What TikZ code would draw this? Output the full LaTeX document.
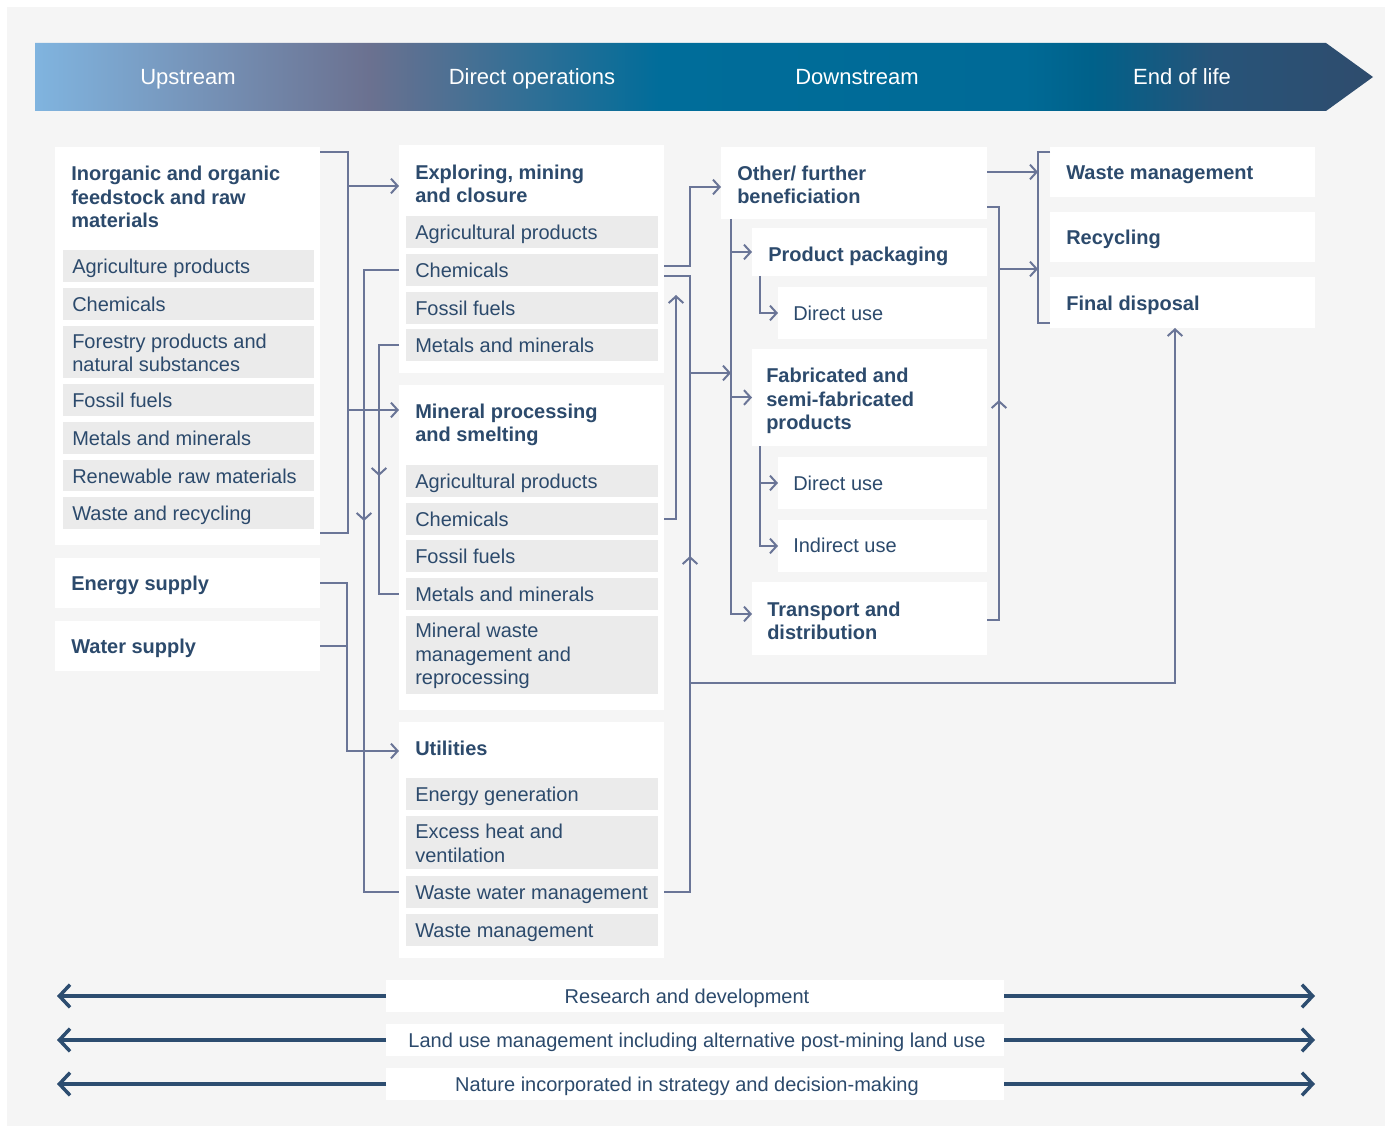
\documentclass[tikz,border=0pt]{standalone}
\usepackage{fontspec}
\setmainfont{Liberation Sans}
\usetikzlibrary{arrows.meta,fit}
\definecolor{bgc}{HTML}{F5F5F5}
\definecolor{itmc}{HTML}{EBEBEB}
\definecolor{ink}{HTML}{2C4A6C}
\definecolor{cn}{HTML}{6A7597}
\definecolor{navy}{HTML}{2D4D70}
\definecolor{bA}{HTML}{80B4DF}
\definecolor{bB}{HTML}{6B7190}
\definecolor{bC}{HTML}{006D9A}
\definecolor{bD}{HTML}{006A96}
\definecolor{bE}{HTML}{00618A}
\definecolor{bF}{HTML}{275479}
\definecolor{bG}{HTML}{2F4C6D}
\pgfdeclarehorizontalshading{band}{100bp}{color(0bp)=(bA); color(25bp)=(bA); color(37.5bp)=(bB); color(48.4bp)=(bC); color(62bp)=(bD); color(64.5bp)=(bE); color(69bp)=(bF); color(75bp)=(bG); color(100bp)=(bG)}
\newcommand{\bx}[6]{\node[#1,fit={(#3,#4) (#5,#6)}] (#2) {};}
\newcommand{\gitem}[6]{\node[gb,fit={(#2,#3) (#4,#5)}] (#1) {};
  \node[txt,one,anchor=west] (#1t) at ({#2+9},{(#3+#5)/2}) {#6};}
\newcommand{\gitemm}[6]{\node[gb,fit={(#2,#3) (#4,#5)}] (#1) {};
  \node[txt,anchor=west] (#1t) at ({#2+9},{(#3+#5)/2+1}) {#6};}
\begin{document}
\begin{tikzpicture}[x=0.75pt,y=-0.75pt,
  wb/.style={fill=white,draw=none,inner sep=0pt,outer sep=0pt},
  gb/.style={fill=itmc,draw=none,inner sep=0pt,outer sep=0pt},
  txt/.style={text=ink,inner sep=0pt,font=\fontsize{15}{17.5}\selectfont,align=left},
  btxt/.style={txt,font=\fontsize{15}{17.5}\selectfont\bfseries},
  one/.style={text height=13.5pt,text depth=2pt},
  hd/.style={text=white,inner sep=0pt,font=\fontsize{16.5}{18}\selectfont,text height=12.5pt,text depth=2pt},
  conn/.style={draw=cn,line width=1.5pt},
  arr/.style={-{Straight Barb[length=5pt,width=11pt]}},
  big/.style={draw=navy,line width=2.6pt,-{Straight Barb[length=8pt,width=17pt]}}]
\fill[white] (0,0) rectangle (1391,1126);
\fill[bgc] (7,7) rectangle (1385,1126);
\useasboundingbox (0,0) rectangle (1391,1126);
% header band
\shade[shading=band] (35,43) -- (1326,43) -- (1373,77) -- (1326,111) -- (35,111) -- cycle;
\node[hd] (hup) at (188,78) {Upstream};
\node[hd] (hdo) at (532,78) {Direct operations};
\node[hd] (hdn) at (857,78) {Downstream};
\node[hd] (hel) at (1182,78) {End of life};
% upstream
\bx{wb}{rawp}{55}{147}{320}{545}
\node[btxt,anchor=west] (rawt) at (71,197) {Inorganic and organic\\feedstock and raw\\materials};
\gitem{r1}{63}{250}{314}{282}{Agriculture products}
\gitem{r2}{63}{288}{314}{320}{Chemicals}
\gitemm{r3}{63}{326}{314}{378}{Forestry products and\\natural substances}
\gitem{r4}{63}{384}{314}{416}{Fossil fuels}
\gitem{r5}{63}{422}{314}{454}{Metals and minerals}
\gitem{r6}{63}{460}{314}{491}{Renewable raw materials}
\gitem{r7}{63}{497}{314}{529}{Waste and recycling}
\bx{wb}{enp}{55}{558}{320}{608}
\node[btxt,one,anchor=west] (ent) at (71,583) {Energy supply};
\bx{wb}{wap}{55}{621}{320}{671}
\node[btxt,one,anchor=west] (wat) at (71,646) {Water supply};
% direct operations
\bx{wb}{expp}{399}{145}{664}{373}
\node[btxt,anchor=west] (expt) at (415,184) {Exploring, mining\\and closure};
\gitem{ex1}{406}{216}{658}{248}{Agricultural products}
\gitem{exch}{406}{254}{658}{286}{Chemicals}
\gitem{ex3}{406}{292}{658}{324}{Fossil fuels}
\gitem{exmm}{406}{329}{658}{361}{Metals and minerals}
\bx{wb}{minp}{399}{385}{664}{710}
\node[btxt,anchor=west] (mint) at (415,425) {Mineral processing\\and smelting};
\gitem{mp1}{406}{465}{658}{497}{Agricultural products}
\gitem{mpch}{406}{503}{658}{535}{Chemicals}
\gitem{mp3}{406}{540}{658}{572}{Fossil fuels}
\gitem{mpmm}{406}{578}{658}{610}{Metals and minerals}
\gitemm{mp5}{406}{616}{658}{694}{Mineral waste\\management and\\reprocessing}
\bx{wb}{utip}{399}{722}{664}{958}
\node[btxt,one,anchor=west] (utit) at (415,748) {Utilities};
\gitem{ut1}{406}{778}{658}{810}{Energy generation}
\gitemm{ut2}{406}{816}{658}{869}{Excess heat and\\ventilation}
\gitem{wwm}{406}{876}{658}{908}{Waste water management}
\gitem{ut4}{406}{914}{658}{946}{Waste management}
% downstream
\bx{wb}{othp}{721}{147}{987}{219}
\node[btxt,anchor=west] (otht) at (737,185) {Other/ further\\beneficiation};
\bx{wb}{ppp}{752}{228}{987}{276}
\node[btxt,one,anchor=west] (ppt) at (768,254) {Product packaging};
\bx{wb}{du1p}{778}{287}{987}{339}
\node[txt,one,anchor=west] (du1t) at (793,313) {Direct use};
\bx{wb}{fabp}{752}{349}{987}{446}
\node[btxt,anchor=west] (fabt) at (766,401) {Fabricated and\\semi-fabricated\\products};
\bx{wb}{du2p}{778}{457}{987}{509}
\node[txt,one,anchor=west] (du2t) at (793,483) {Direct use};
\bx{wb}{iup}{778}{520}{987}{572}
\node[txt,one,anchor=west] (iut) at (793,545) {Indirect use};
\bx{wb}{trp}{752}{582}{987}{655}
\node[btxt,anchor=west] (trt) at (767,621) {Transport and\\distribution};
% end of life
\bx{wb}{wmp}{1050}{147}{1315}{197}
\node[btxt,one,anchor=west] (wmt) at (1066,172) {Waste management};
\bx{wb}{rcp}{1050}{212}{1315}{262}
\node[btxt,one,anchor=west] (rct) at (1066,237) {Recycling};
\bx{wb}{fdp}{1050}{277}{1315}{328}
\node[btxt,one,anchor=west] (fdt) at (1066,303) {Final disposal};
% bottom bars
\bx{wb}{rdp}{386}{980}{1004}{1012}
\node[txt,one] (rdt) at (687,996) {Research and development};
\bx{wb}{lup}{386}{1024}{1004}{1056}
\node[txt,one] (lut) at (697,1040) {Land use management including alternative post-mining land use};
\bx{wb}{nap}{386}{1068}{1004}{1100}
\node[txt,one] (nat) at (687,1084) {Nature incorporated in strategy and decision-making};
\coordinate (bl) at (57,0);
\coordinate (br) at (1315,0);
\draw[big] (rdp.west) -- (rdp.west -| bl);
\draw[big] (rdp.east) -- (rdp.east -| br);
\draw[big] (lup.west) -- (lup.west -| bl);
\draw[big] (lup.east) -- (lup.east -| br);
\draw[big] (nap.west) -- (nap.west -| bl);
\draw[big] (nap.east) -- (nap.east -| br);
% connectors upstream -> direct operations
\draw[conn] (rawp.east |- 0,152) -| (348,533) -- (rawp.east |- 0,533);
\draw[conn,arr] (348,186) -- (expp.west |- 0,186);
\draw[conn,arr] (348,410) -- (minp.west |- 0,410);
\draw[conn] (expp.west |- exch.west) -| (364,892) -- (utip.west |- wwm.west);
\draw[conn,arr] (364,498) -- (364,521);
\draw[conn] (expp.west |- exmm.west) -| (379,594) -- (minp.west |- mpmm.west);
\draw[conn,arr] (379,452) -- (379,476);
\draw[conn,arr] (enp.east) -| (347,751) -- (utip.west |- 0,751);
\draw[conn] (wap.east) -- (347,646);
% direct operations -> downstream
\coordinate (xfd) at (1175,0);
\draw[conn,arr] (expp.east |- 0,266) -| (690,187) -- (othp.west |- 0,187);
\draw[conn] (expp.east |- 0,276) -| (690,892) -- (utip.east |- wwm.east);
\draw[conn,arr] (690,373) -- (731,373);
\draw[conn,arr] (690,580) -- (690,556);
\draw[conn,arr] (690,683) -| (fdp.south -| xfd);
\draw[conn,arr] (minp.east |- mpch.east) -| (676,295);
% downstream bus
\coordinate (xb) at (731,0);
\coordinate (xs) at (760,0);
\draw[conn,arr] (othp.south -| xb) |- (trp.west |- 0,614);
\draw[conn,arr] (xb |- ppp.west) -- (ppp.west);
\draw[conn,arr] (xb |- fabp.west) -- (fabp.west);
\draw[conn,arr] (ppp.south -| xs) |- (du1p.west);
\draw[conn,arr] (fabp.south -| xs) |- (iup.west);
\draw[conn,arr] (xs |- du2p.west) -- (du2p.west);
% downstream -> end of life
\draw[conn,arr] (othp.east |- 0,172) -- (1038,172);
\draw[conn] (wmp.west |- 0,152) -| (1038,323) -- (fdp.west |- 0,323);
\draw[conn] (othp.east |- 0,207) -| (999,620) -- (trp.east |- 0,620);
\draw[conn,arr] (999,269) -- (1038,269);
\draw[conn,arr] (999,425) -- (999,400);
\end{tikzpicture}
\end{document}
